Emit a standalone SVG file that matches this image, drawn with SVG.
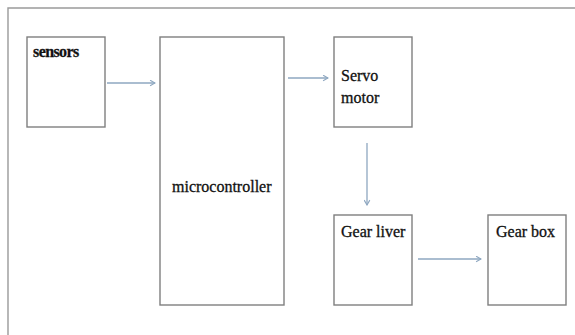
<svg xmlns="http://www.w3.org/2000/svg" width="575" height="335" viewBox="0 0 575 335">
<defs>
<style>
.box{fill:#fff;stroke:#7f7f7f;stroke-width:1.4}
.frame{fill:none;stroke:#9a9a9a;stroke-width:1.4}
.lbl{font-family:"Liberation Serif","Times New Roman",serif;font-size:16px;fill:#111;stroke:#111;stroke-width:0.3}
.bold{font-weight:bold;font-size:16px;letter-spacing:-0.6px}
.conn{stroke:#8ea7c0;stroke-width:1.3;fill:none}
</style>
<marker id="ah" viewBox="0 0 10 10" refX="9" refY="5" markerWidth="7" markerHeight="7" markerUnits="userSpaceOnUse" orient="auto">
<path d="M2,1 L9,5 L2,9" fill="none" stroke="#8ea7c0" stroke-width="1.6"/>
</marker>
</defs>
<rect width="575" height="335" fill="#fff"/>
<path class="frame" d="M576,8 H8 V336"/>
<g id="sensors"><rect class="box" x="27" y="37" width="78" height="90"/><text class="lbl bold" x="33" y="57">sensors</text></g>
<g id="microcontroller"><rect class="box" x="160" y="37" width="124" height="268"/><text class="lbl" x="172" y="192">microcontroller</text></g>
<g id="servo"><rect class="box" x="334" y="37" width="78" height="90"/><text class="lbl" x="341" y="81">Servo</text><text class="lbl" x="341" y="103">motor</text></g>
<g id="gearliver"><rect class="box" x="334" y="215" width="78" height="90"/><text class="lbl" x="341" y="237">Gear liver</text></g>
<g id="gearbox"><rect class="box" x="488" y="215" width="78" height="90"/><text class="lbl" x="496" y="237">Gear box</text></g>
<g id="connectors">
<line class="conn" x1="107" y1="83" x2="155" y2="83" marker-end="url(#ah)"/>
<line class="conn" x1="288" y1="78" x2="328" y2="78" marker-end="url(#ah)"/>
<line class="conn" x1="367" y1="143" x2="367" y2="205" marker-end="url(#ah)"/>
<line class="conn" x1="418" y1="259" x2="481" y2="259" marker-end="url(#ah)"/>
</g>
</svg>
